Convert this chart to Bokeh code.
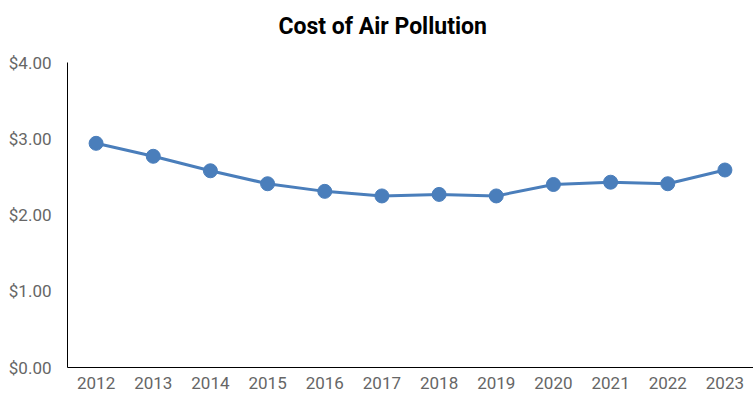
from bokeh.plotting import figure
from bokeh.models import ColumnDataSource, FixedTicker, NumeralTickFormatter, Range1d, FactorRange, Title
from bokeh.embed import file_html
from bokeh.resources import INLINE

years = ["2012", "2013", "2014", "2015", "2016", "2017", "2018", "2019", "2020", "2021", "2022", "2023"]
cost = [2.94, 2.77, 2.58, 2.41, 2.31, 2.25, 2.27, 2.25, 2.40, 2.43, 2.41, 2.59]
y_ticks = [0, 1, 2, 3, 4]

src = ColumnDataSource(dict(year=years, cost=cost))

p = figure(width=753, height=398, x_range=FactorRange(*years), y_range=Range1d(0, 4),
           output_backend="svg", toolbar_location=None,
           min_border_left=67, min_border_right=0, min_border_top=0, min_border_bottom=31)
p.title = Title(text="Cost of Air Pollution", align="left", offset=211,
                text_font="Roboto", text_font_size="23px", text_font_style="bold",
                text_color="#000000", standoff=20)
# spacer panel between the title and the plot frame
p.add_layout(Title(text=" ", text_font_size="10px", standoff=0), "above")
p.outline_line_color = None
p.xgrid.grid_line_color = None
p.ygrid.grid_line_color = None

p.line("year", "cost", source=src, line_color="#4a7ebb", line_width=3)
p.scatter("year", "cost", source=src, size=14, fill_color="#4a7ebb", line_color="#4a7ebb")

for ax in (p.xaxis[0], p.yaxis[0]):
    ax.axis_line_color = "#000000"
    ax.axis_line_width = 1
    ax.major_tick_line_color = None
    ax.minor_tick_line_color = None
    ax.major_label_text_font = "Roboto"
    ax.major_label_text_font_size = "17px"
    ax.major_label_text_color = "#666666"

p.yaxis.ticker = FixedTicker(ticks=y_ticks)
p.yaxis.formatter = NumeralTickFormatter(format="$0.00")
p.yaxis.major_label_standoff = 10
p.xaxis.major_label_standoff = 3
p.x_range.range_padding = 0
p.x_range.group_padding = 0

open("out.html", "w").write(file_html(p, INLINE))
